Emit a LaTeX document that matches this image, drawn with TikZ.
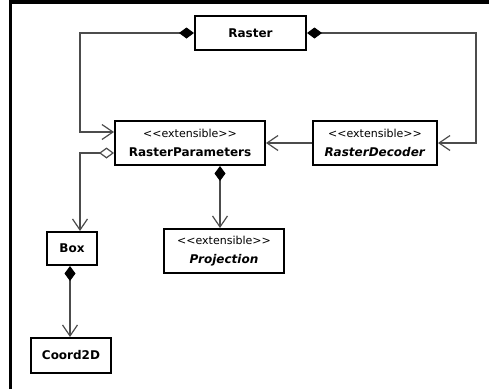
\documentclass[tikz,border=0pt]{standalone}
\usepackage{fontspec}
\setmainfont{DejaVu Sans}
\usetikzlibrary{arrows.meta}

\newcommand{\stereo}{{\mdseries\fontsize{11}{13}\selectfont <\kern0pt<extensible>\kern0pt>}}

\tikzset{
	umlclass/.style={draw, line width=2pt, fill=white, inner sep=0pt, align=center,
		font=\bfseries\fontsize{12}{14}\selectfont},
	link/.style={draw=black!70, line width=1.2pt},
	navig/.style={link, -{Straight Barb[length=11pt,width=15pt]}},
	compo/.style={link, {Diamond[length=15pt,width=11pt,color=black,fill=black]}-{Straight Barb[length=11pt,width=15pt]}},
	aggreg/.style={link, {Diamond[open,length=15pt,width=11pt]}-{Straight Barb[length=11pt,width=15pt]}}
}

\begin{document}
\begin{tikzpicture}[x=1pt, y=-1pt]
	
	% 1. Page size and frame
	\useasboundingbox (0,0) rectangle (489,389);
	\draw[line width=3.5pt] (10.5,389) -- (10.5,1.75) -- (489,1.75);
	
	% 2. Classes
	\node[umlclass, minimum width=111pt, minimum height=34pt] (raster) at (250.5,33) {Raster};
	\node[umlclass, minimum width=150pt, minimum height=44pt] (params) at (190,143) {\stereo\\[5pt]RasterParameters};
	\node[umlclass, minimum width=124pt, minimum height=44pt] (decoder) at (375,143) {\stereo\\[5pt]\textit{RasterDecoder}};
	\node[umlclass, minimum width=120pt, minimum height=44pt] (proj) at (224,251) {\stereo\\[5pt]\textit{Projection}};
	\node[umlclass, minimum width=50pt, minimum height=33pt] (box) at (72,248.5) {Box};
	\node[umlclass, minimum width=80pt, minimum height=35pt] (coord) at (71,355.5) {Coord2D};
	
	% 3. Corners of the long links from Raster
	\coordinate (lcorner) at (80,33);
	\coordinate (rcorner) at (476,33);
	
	% 4. Links
	\draw[compo] (raster.west) -- (lcorner) |- ([yshift=11pt]params.west);
	\draw[compo] (raster.east) -- (rcorner) |- (decoder.east);
	\draw[navig] (decoder.west) -- (params.east);
	\draw[aggreg] ([yshift=-10pt]params.west) -| ([xshift=8pt]box.north);
	\draw[compo] ([xshift=30pt]params.south) -- ([xshift=30pt]params.south |- proj.north);
	\draw[compo] ([xshift=-2pt]box.south) -- ([xshift=-2pt]box.south |- coord.north);
	
\end{tikzpicture}
\end{document}
